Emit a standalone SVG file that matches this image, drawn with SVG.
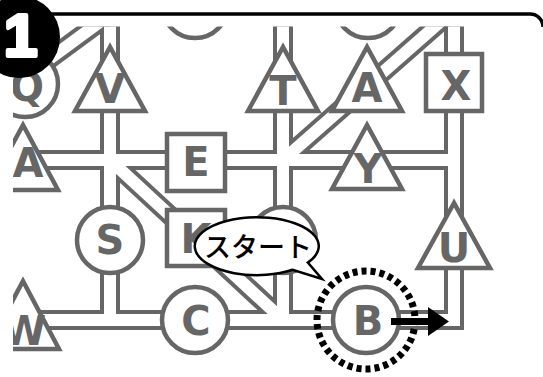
<svg xmlns="http://www.w3.org/2000/svg" xmlns:xlink="http://www.w3.org/1999/xlink" width="543" height="377" viewBox="0 0 543 377">
<style>
.ro{fill:none;stroke:#666;stroke-width:20;stroke-linejoin:miter}
.ri{fill:none;stroke:#fff;stroke-width:12;stroke-linejoin:miter}
.nd{fill:#fff;stroke:#666;stroke-width:4.5;stroke-linejoin:miter}
.lb{font-family:"DejaVu Sans","Liberation Sans",sans-serif;font-weight:bold;font-size:40px;fill:#666;text-anchor:middle}
</style>
<defs>
<clipPath id="clip"><rect x="13" y="26.5" width="600" height="400"/></clipPath>
<path id="rH" d="M23 160 H454"/>
<path id="rB" d="M23 320 H454 V240"/>
<path id="rX" d="M454 -10 V240"/>
<path id="rV" d="M110 -10 V320"/>
<path id="rT" d="M283 -10 V320"/>
<path id="rQ" d="M40 66 L120 7"/>
<path id="rD1" d="M110 160 L283 320"/>
<path id="rD2" d="M283 160 L460 4.4"/>
</defs>
<rect width="543" height="377" fill="#fff"/>
<g clip-path="url(#clip)">
<g id="connectors">
<g class="ro"><use href="#rH"/><use href="#rB"/><use href="#rX"/><use href="#rV"/><use href="#rT"/><use href="#rQ"/><use href="#rD1"/><use href="#rD2"/></g>
<g class="ri"><use href="#rH"/><use href="#rB"/><use href="#rX"/><use href="#rV"/><use href="#rT"/><use href="#rQ"/><use href="#rD1"/><use href="#rD2"/></g>
</g>
<g id="top1"><circle class="nd" cx="195" cy="5" r="33"/></g>
<g id="top2"><circle class="nd" cx="368" cy="5" r="33"/></g>
<g id="Q"><circle class="nd" cx="25" cy="84" r="33"/><text class="lb" x="27" y="101">Q</text></g>
<g id="V"><polygon class="nd" points="110,47 75,111 145,111"/><text class="lb" x="110" y="103">V</text></g>
<g id="T"><polygon class="nd" points="283,47 248,111 318,111"/><text class="lb" x="283" y="105">T</text></g>
<g id="A1"><polygon class="nd" points="367,47 332,111 402,111"/><text class="lb" x="367" y="102">A</text></g>
<g id="X"><rect class="nd" x="426" y="54" width="56" height="57"/><text class="lb" x="456" y="100">X</text></g>
<g id="A2"><polygon class="nd" points="23,125 -12,190 58,190"/><text class="lb" x="28" y="177">A</text></g>
<g id="E"><rect class="nd" x="167" y="134" width="58" height="57"/><text class="lb" x="196" y="176">E</text></g>
<g id="Y"><polygon class="nd" points="367,125 332,189 402,189"/><text class="lb" x="368" y="183">Y</text></g>
<g id="S"><circle class="nd" cx="110" cy="240" r="33"/><text class="lb" x="110" y="254">S</text></g>
<g id="K"><rect class="nd" x="167" y="210" width="58" height="56"/><text class="lb" x="196" y="253">K</text></g>
<g id="N"><circle class="nd" cx="283" cy="240" r="33"/></g>
<g id="U"><polygon class="nd" points="454,203 418,268 490,268"/><text class="lb" x="454" y="262">U</text></g>
<g id="W"><polygon class="nd" points="23,281 -13,349 59,349"/><text class="lb" x="24" y="345">W</text></g>
<g id="C"><circle class="nd" cx="195" cy="320" r="33"/><text class="lb" x="196" y="335">C</text></g>
<g id="B"><circle class="nd" cx="366" cy="320" r="33"/><text class="lb" x="368" y="335">B</text></g>
</g>
<g id="start-mark">
<circle cx="366" cy="320" r="49" fill="none" stroke="#000" stroke-width="7" pathLength="34" stroke-dasharray="0.56 0.44"/>
<line x1="391" y1="321.5" x2="432" y2="321.5" stroke="#000" stroke-width="7"/>
<polygon points="428,307 449,321.5 428,336" fill="#000"/>
</g>
<g id="bubble">
<path d="M292.6 269.8 A62 29 0 1 1 307.8 262.6 L322 279 Z" fill="#fff" stroke="#000" stroke-width="2.5" stroke-linejoin="miter"/>
<text x="258" y="257" font-family="'Noto Sans CJK JP',sans-serif" font-weight="500" font-size="27" fill="#000" text-anchor="middle">スタート</text>
</g>
<g id="frame">
<path d="M40 14 H530 A13 13 0 0 1 543 27" fill="none" stroke="#000" stroke-width="3.5"/>
<circle cx="19" cy="37" r="41" fill="#000"/>
<text x="4" y="56" font-family="'Liberation Sans',sans-serif" font-weight="bold" font-size="60" fill="#fff" stroke="#fff" stroke-width="4" stroke-linejoin="round">1</text>
</g>
</svg>
